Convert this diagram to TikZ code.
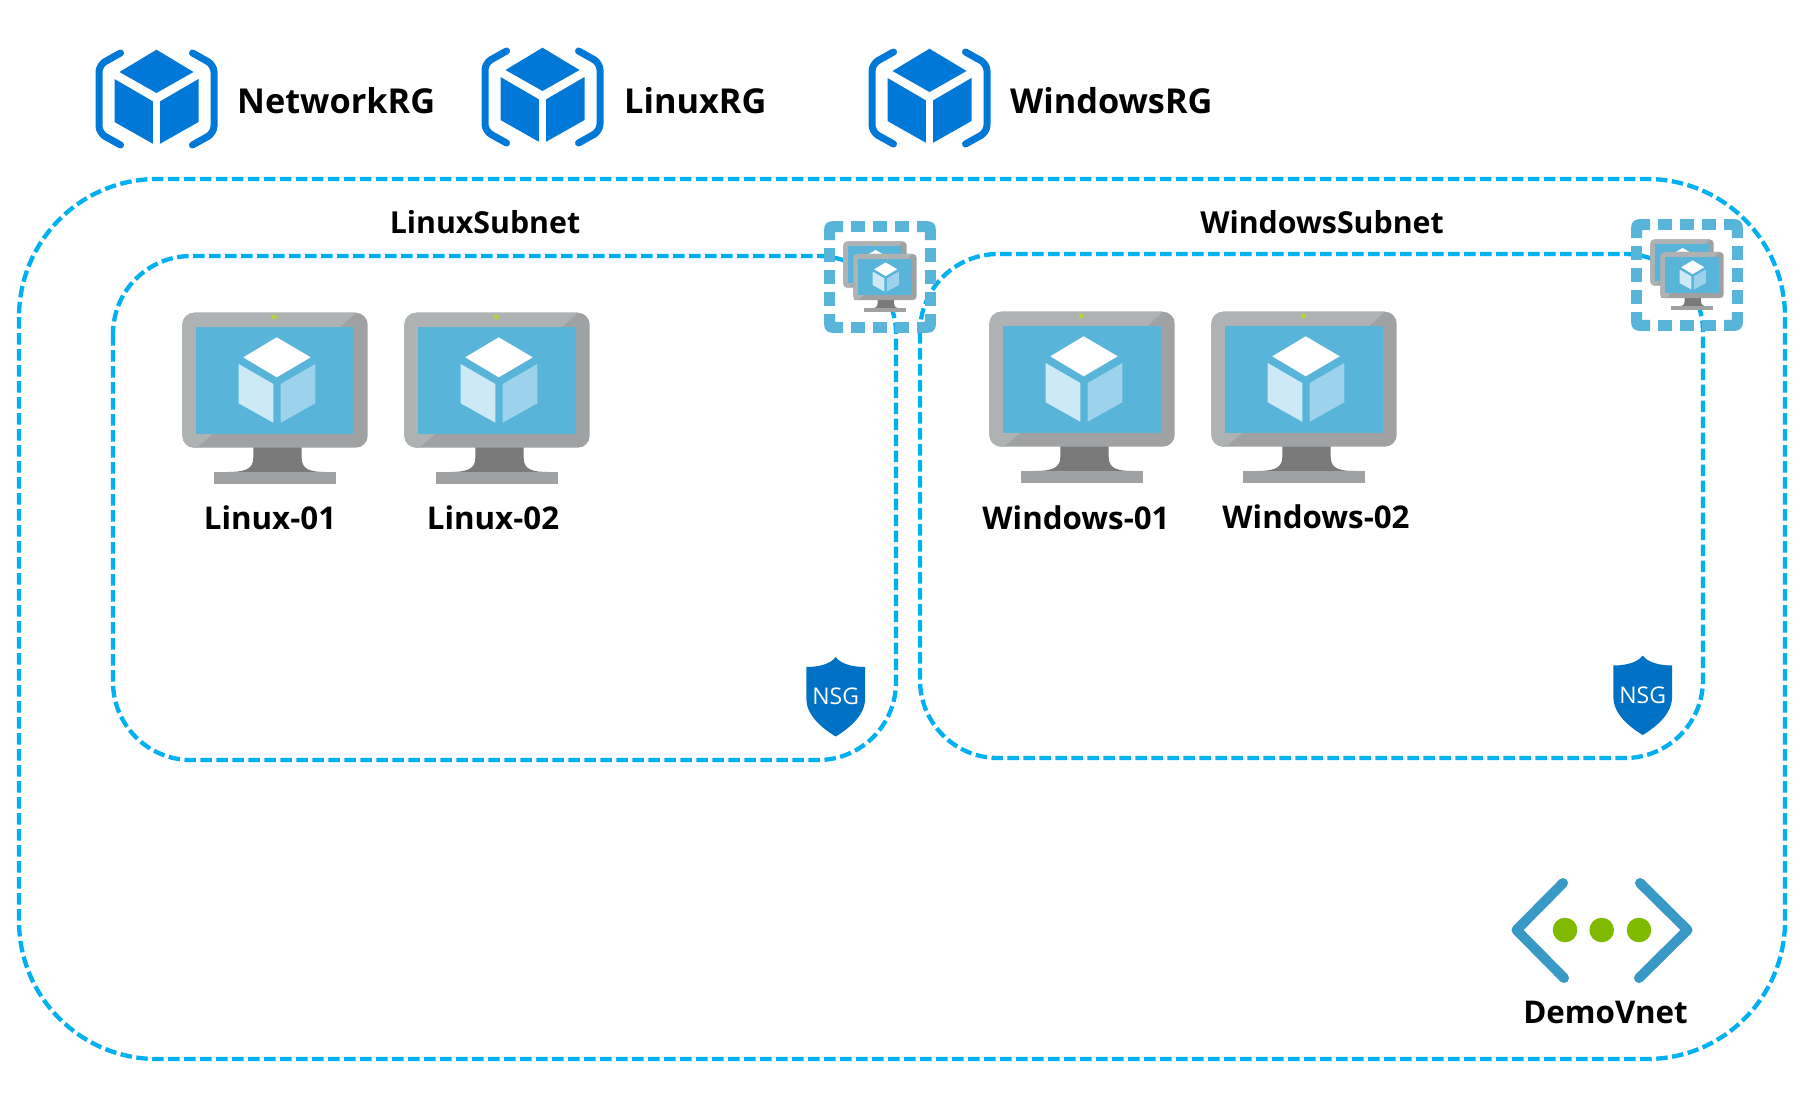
\documentclass[tikz,border=0pt]{standalone}
\usepackage{fontspec}
\setmainfont{Open Sans}
\definecolor{azblue}{HTML}{0078D7}
\definecolor{nsgblue}{HTML}{0072C6}
\definecolor{netline}{HTML}{00B0F0}
\definecolor{vmscreen}{HTML}{59B4D9}
\definecolor{vmlight}{HTML}{AEB2B3}
\definecolor{vmdark}{HTML}{A0A1A2}
\definecolor{vmneck}{HTML}{7A7A7A}
\definecolor{vmdot}{HTML}{B8D432}
\definecolor{cubeleft}{HTML}{CDE9F6}
\definecolor{cuberight}{HTML}{9CD2EC}
\definecolor{vnetblue}{HTML}{3999C6}
\definecolor{vnetgreen}{HTML}{7FBA00}
\tikzset{
  netbox/.style={draw=netline, line width=4.3pt, dash pattern=on 11.5pt off 4.5pt},
  lbl/.style={font=\fontsize{31.3}{36}\selectfont\bfseries, inner sep=0pt, text=black},
  rglbl/.style={lbl, anchor=west, font=\fontsize{34.3}{38}\selectfont\bfseries},
  sublbl/.style={lbl, font=\fontsize{30.3}{36}\selectfont\bfseries},
  pics/rgicon/.style={code={
    \fill[azblue] (0,-49.3) -- (37,-27) -- (0,-6) -- (-37,-27) -- cycle;
    \fill[azblue] (-42,-20) -- (-3.7,2.3) -- (-3.7,44.7) -- (-42,23) -- cycle;
    \fill[azblue] (42,-20) -- (3.7,2.3) -- (3.7,44.7) -- (42,23) -- cycle;
    \draw[azblue, line width=7pt, line cap=round, line join=round, rounded corners=7pt]
      (-36,-46) -- (-57.5,-34) -- (-57.5,34) -- (-36,46);
    \draw[azblue, line width=7pt, line cap=round, line join=round, rounded corners=7pt]
      (36,-46) -- (57.5,-34) -- (57.5,34) -- (36,46);
  }},
  pics/vmicon/.style={code={
    \fill[vmneck] (-21.7,67) -- (-21.7,78) .. controls (-21.7,90) and (-32,92) .. (-48,92)
      -- (52,92) .. controls (36,92) and (26.7,90) .. (26.7,78) -- (26.7,67) -- cycle;
    \fill[vmdark] (-60.7,92) rectangle (60.7,103.7);
    \fill[vmdark, rounded corners=#1pt] (-92.7,-67.3) rectangle (92.7,67.7);
    \begin{scope}
      \clip[rounded corners=#1pt] (-92.7,-67.3) rectangle (92.7,67.7);
      \fill[vmlight] (-93,-68) -- (81.7,-68) -- (65,-53) -- (-62,54) -- (-78.3,68) -- (-93,68) -- cycle;
    \end{scope}
    \fill[vmscreen] (-79,-53.3) rectangle (78.7,53.7);
    \fill[vmdot] (-0.7,-63) circle (2.5);
    \fill[white] (1.7,-42.7) -- (35.7,-22.7) -- (1.7,-2.7) -- (-31.7,-22.7) -- cycle;
    \fill[cubeleft] (-36.3,-16) -- (-1.7,4) -- (-1.7,42.7) -- (-36.3,23.3) -- cycle;
    \fill[cuberight] (5.7,4) -- (40.3,-16) -- (40.3,23.3) -- (5.7,42.7) -- cycle;
  }},
  pics/scaleset/.style={code={
    \foreach \ang in {0,90,180,270} {
      \begin{scope}[rotate=\ang]
        \fill[vmscreen] (-55.8,-37) -- (-55.8,-48) .. controls (-55.8,-52.5) and (-52.5,-55.8) .. (-48,-55.8)
          -- (-37,-55.8) -- (-37,-44.8) -- (-44.8,-44.8) -- (-44.8,-37) -- cycle;
        \foreach \sqx in {-22,0,22}
          \fill[vmscreen] (\sqx-7.4,-55.8) rectangle (\sqx+7.4,-44.8);
      \end{scope}
    }
    \pic[scale=.342] at (-5,-12.5) {vmicon=4};
    \pic[scale=.342] at (5,0) {vmicon=4};
  }},
  pics/nsgicon/.style={code={
    \fill[nsgblue] (0,0) .. controls (5,7) and (17,10) .. (29.3,10)
      -- (29.3,42) .. controls (29.3,58) and (14,71) .. (0,79.5)
      .. controls (-14,71) and (-29.3,58) .. (-29.3,42) -- (-29.3,10)
      .. controls (-17,10) and (-5,7) .. (0,0) -- cycle;
    \node[font=\fontsize{23}{26}\selectfont, text=white, inner sep=0pt] at (0,39.5) {NSG};
  }},
}
\begin{document}
\begin{tikzpicture}[x=1pt, y=-1pt]
  \useasboundingbox[fill=white] (0,0) rectangle (1819,1096);

  % resource groups
  \pic at (156.5,99) {rgicon};
  \pic at (542.5,97) {rgicon};
  \pic at (929.5,98) {rgicon};
  \node[rglbl] (networkrg) at (237,101) {NetworkRG};
  \node[rglbl] (linuxrg) at (624,101) {LinuxRG};
  \node[rglbl] (windowsrg) at (1010,101) {WindowsRG};

  % vnet and subnets
  \draw[netbox, rounded corners=138pt] (19,179) rectangle (1785,1059);
  \draw[netbox, rounded corners=78pt] (113,256) rectangle (896,760);
  \draw[netbox, rounded corners=78pt] (920,254) rectangle (1703,758);
  \node[sublbl] (linuxsubnet) at (485,222) {LinuxSubnet};
  \node[sublbl] (windowssubnet) at (1322,222) {WindowsSubnet};

  % machines
  \pic at (275,380) {vmicon=12};
  \pic at (497,380) {vmicon=12};
  \pic at (1082,379) {vmicon=12};
  \pic at (1304,379) {vmicon=12};
  \node[lbl] (linux01) at (270,518) {Linux-01};
  \node[lbl] (linux02) at (493,518) {Linux-02};
  \node[lbl] (windows01) at (1076,518) {Windows-01};
  \node[lbl] (windows02) at (1316,517) {Windows-02};

  % scale sets and nsg
  \pic at (880,277) {scaleset};
  \pic at (1687,275) {scaleset};
  \pic at (835.7,657) {nsgicon};
  \pic at (1642.7,655.5) {nsgicon};

  % vnet icon
  \draw[vnetblue, line width=10pt, line cap=round, line join=round] (1563,883) -- (1516.5,930) -- (1564,978);
  \draw[vnetblue, line width=10pt, line cap=round, line join=round] (1640,883) -- (1687.5,930) -- (1639,978);
  \foreach \dotx in {1565,1601.7,1639}
    \fill[vnetgreen] (\dotx,930) circle (12.3);
  \node[lbl] (demovnet) at (1605.5,1012) {DemoVnet};
\end{tikzpicture}
\end{document}
